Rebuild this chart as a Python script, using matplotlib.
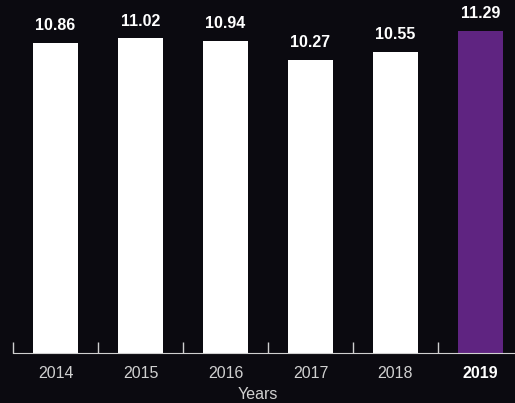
import matplotlib.pyplot as plt
import numpy as np

years = ['2014', '2015', '2016', '2017', '2018', '2019']
values = [10.86, 11.02, 10.94, 10.27, 10.55, 11.29]

BG = '#0b0a10'
PURPLE = '#5f2481'
GREY = '#d0d0d0'

plt.rcParams['font.family'] = ['Liberation Sans', 'DejaVu Sans']

fig = plt.figure(figsize=(5.15, 4.03), dpi=100, facecolor=BG)
ax = fig.add_axes([0.0, 0.124, 1.0, 0.85], facecolor=BG)

x = np.arange(len(years))
colours = ['white'] * (len(years) - 1) + [PURPLE]
bars = ax.bar(x, values, width=0.53, color=colours)

for xi, v in zip(x, values):
    ax.annotate(f'{v:.2f}', (xi, v), xytext=(0, 7), textcoords='offset points',
                ha='center', va='bottom', color='white', fontsize=11.5, fontweight='bold')

ax.set_xlim(-0.653, 5.406)
ax.set_ylim(0, 12)

# category labels at bar centres, short ticks on the boundaries
ax.set_xticks(x)
ax.set_xticklabels(years, fontsize=11.5, color=GREY)
ax.get_xticklabels()[-1].set_fontweight('bold')
ax.get_xticklabels()[-1].set_color('white')
ax.tick_params(axis='x', which='major', length=0, pad=9)
ax.set_xticks(x - 0.5, minor=True)
ax.tick_params(axis='x', which='minor', direction='in', length=8, color=GREY, width=1)
ax.set_xlabel('Years', fontsize=11.5, color=GREY, labelpad=5)

ax.set_yticks([])
for s in ['top', 'right', 'left']:
    ax.spines[s].set_visible(False)
ax.spines['bottom'].set_color(GREY)
ax.spines['bottom'].set_bounds(-0.5, 5.406)

fig.savefig('out.png', dpi=100, facecolor=BG)
